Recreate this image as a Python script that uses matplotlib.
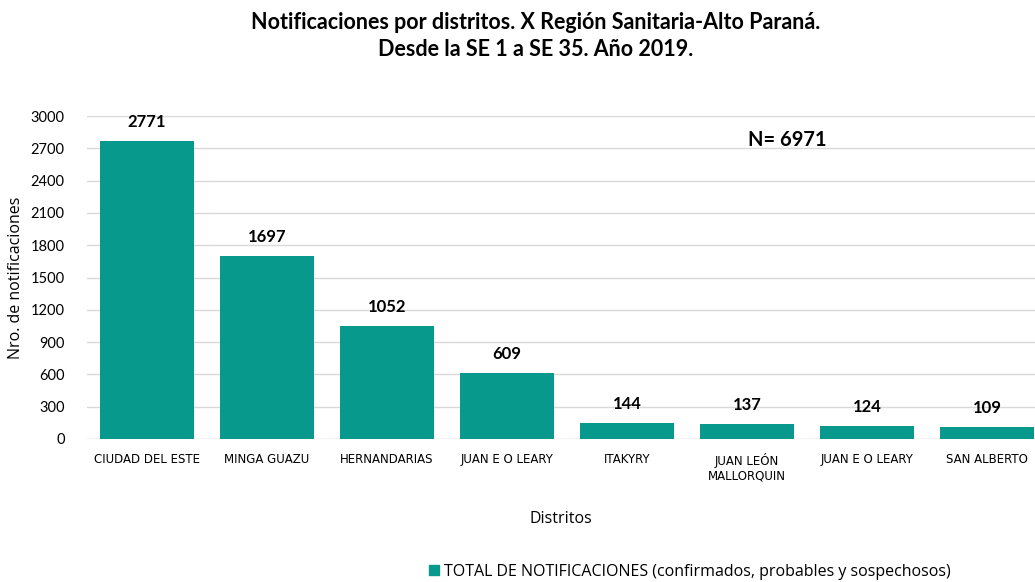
import matplotlib
matplotlib.use("Agg")
import matplotlib.pyplot as plt
from matplotlib.patches import Patch

districts = ["CIUDAD DEL ESTE", "MINGA GUAZU", "HERNANDARIAS", "JUAN E O LEARY",
             "ITAKYRY", "JUAN LEÓN\nMALLORQUIN", "JUAN E O LEARY", "SAN ALBERTO"]
values = [2771, 1697, 1052, 609, 144, 137, 124, 109]
yticks = [0, 300, 600, 900, 1200, 1500, 1800, 2100, 2400, 2700, 3000]
total_n = 6971

color = "#079A8C"
W, H = 1035, 582
fig = plt.figure(figsize=(W / 100, H / 100), dpi=100)
ax = fig.add_axes([87 / W, 1 - 439 / H, (1035 - 87) / W, (439 - 116) / H])

x = list(range(len(values)))
ax.bar(x, values, width=0.79, color=color, zorder=2)
ax.set_xlim(-0.5, 7.4)
ax.set_ylim(0, 3000)
ax.set_yticks(yticks)
ax.set_yticklabels([str(t) for t in yticks], fontsize=10.5, family="Lato")
ax.tick_params(axis="y", length=0, pad=16)
ax.tick_params(axis="x", length=0, pad=10)
ax.set_xticks(x)
ax.set_xticklabels(districts, fontsize=8.5, family="Liberation Sans Narrow")
ax.grid(axis="y", color="#d9d9d9", linewidth=1, zorder=0)
for s in ax.spines.values():
    s.set_visible(False)
ax.axhline(0, color="#d9d9d9", linewidth=1, zorder=1)

for xi, v in zip(x, values):
    ax.annotate(str(v), (xi, v), xytext=(0, 8), textcoords="offset points",
                ha="center", va="bottom", fontsize=12, fontweight="bold", family="Lato")

ax.set_ylabel("Nro. de notificaciones", fontsize=11.5, family="Open Sans", labelpad=5)
ax.set_xlabel("Distritos", fontsize=11.5, family="Open Sans", labelpad=20)

fig.text(536 / W, 1 - 36 / H,
         "Notificaciones por distritos. X Región Sanitaria-Alto Paraná.\nDesde la SE 1 a SE 35. Año 2019.",
         ha="center", va="center", fontsize=15.5, fontweight="bold", family="Lato", linespacing=1.3)
fig.text(787 / W, 1 - 140 / H, f"N= {total_n}", ha="center", va="center",
         fontsize=14.5, fontweight="bold", family="Lato")

fig.legend(handles=[Patch(color=color)],
           labels=["TOTAL DE NOTIFICACIONES (confirmados, probables y sospechosos)"],
           loc="center", bbox_to_anchor=(690 / W, 1 - 572 / H), frameon=False,
           handlelength=0.6, handleheight=0.6, handletextpad=0.3,
           prop={"family": "Open Sans", "size": 11.5})

fig.savefig("out.png", dpi=100)
